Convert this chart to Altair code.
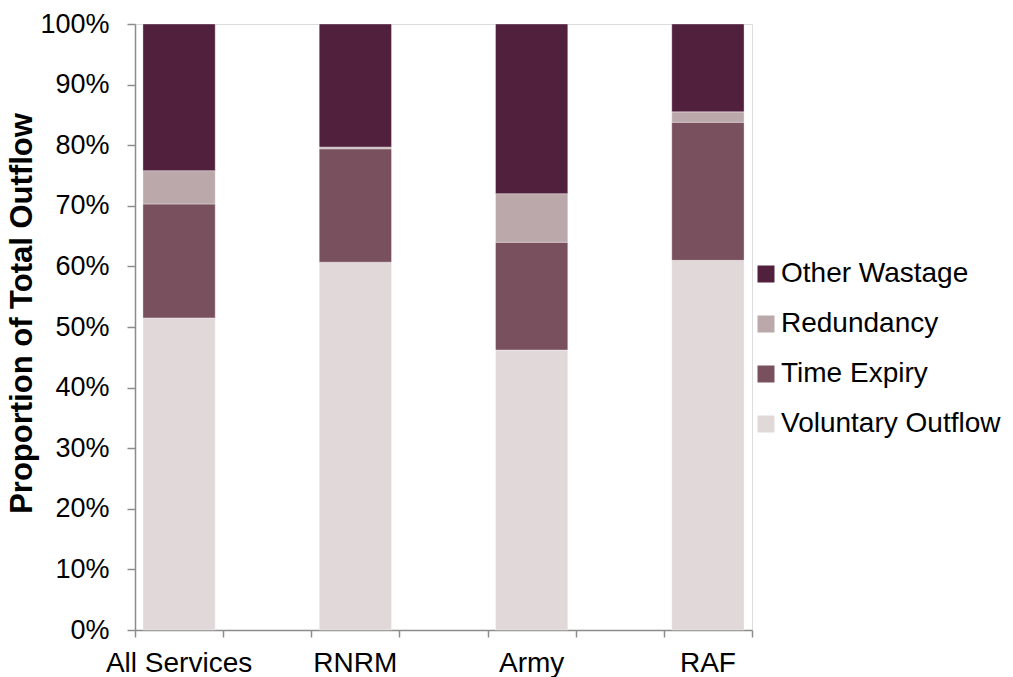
import altair as alt
import pandas as pd

services = ["All Services", "RNRM", "Army", "RAF"]
categories = ["Voluntary Outflow", "Time Expiry", "Redundancy", "Other Wastage"]
voluntary = [51.5, 60.7, 46.2, 61.0]
time_expiry = [18.8, 18.7, 17.8, 22.8]
redundancy = [5.5, 0.3, 8.0, 1.7]
other = [24.2, 20.3, 28.0, 14.5]
y_ticks = [0, 10, 20, 30, 40, 50, 60, 70, 80, 90, 100]

legend_order = ["Other Wastage", "Redundancy", "Time Expiry", "Voluntary Outflow"]
colors = ["#50203C", "#BAA8AB", "#78505E", "#E1D8DA"]

series = [voluntary, time_expiry, redundancy, other]
rows = []
for si, s in enumerate(services):
    for ci, c in enumerate(categories):
        rows.append({"service": s, "idx": si, "category": c, "order": ci, "value": series[ci][si]})
df = pd.DataFrame(rows)
lab = pd.DataFrame({"service": services, "idx": list(range(len(services)))})

FONT = "Liberation Sans"
W, H = 617, 606
half = 0.41
AXC = "#8c8c8c"

xscale = alt.Scale(domain=[0, 7], nice=False, zero=False)
yscale = alt.Scale(domain=[0, 100], nice=False)

bars = alt.Chart(df).transform_window(
    cum="sum(value)", groupby=["idx"], sort=[alt.SortField("order", order="ascending")],
    frame=[None, 0]
).transform_calculate(
    base="datum.cum - datum.value",
    pos="datum.idx * 2 + 0.5"
).transform_calculate(
    xa="datum.pos - %f" % half, xb="datum.pos + %f" % half
).mark_bar(stroke="white", strokeWidth=0.6, strokeOpacity=0.6).encode(
    x=alt.X("xa:Q", scale=xscale,
            axis=alt.Axis(values=list(range(8)), labels=False, ticks=True, tickSize=7,
                          tickColor=AXC, domainColor=AXC, tickWidth=1.5, domainWidth=1.5,
                          grid=False, title=None, orient="bottom")),
    x2="xb:Q",
    y=alt.Y("base:Q", scale=yscale,
            axis=alt.Axis(values=y_ticks, labelExpr="datum.value + '%'", tickSize=8,
                          tickColor=AXC, domainColor=AXC, tickWidth=1.5, domainWidth=1.5,
                          grid=False, labelFontSize=27, labelFont=FONT, labelColor="black",
                          labelPadding=18,
                          title="Proportion of Total Outflow", titleFont=FONT, titleFontSize=31,
                          titleFontWeight="bold", titleColor="black",
                          titleX=-97, titleY=289, titleAngle=270, titleBaseline="bottom",
                          titleAlign="center")),
    y2="cum:Q",
    color=alt.Color("category:N",
                    scale=alt.Scale(domain=legend_order, range=colors),
                    sort=legend_order,
                    legend=alt.Legend(title=None, orient="none", legendX=617, legendY=236,
                                      symbolType="square", symbolSize=289, symbolStrokeWidth=0,
                                      labelFontSize=28, labelFont=FONT, labelColor="black",
                                      rowPadding=22, labelOffset=1, labelLimit=400)),
)

labels = alt.Chart(lab).transform_calculate(
    pos="datum.idx * 2 + 0.5"
).mark_text(fontSize=28, font=FONT, color="black", baseline="alphabetic", align="center").encode(
    x=alt.X("pos:Q", scale=xscale),
    y=alt.value(H + 42),
    text="service:N",
)

chart = alt.layer(bars, labels).properties(
    width=W, height=H,
    autosize=alt.AutoSizeParams(type="none"),
    padding={"left": 135, "top": 24, "right": 261, "bottom": 47},
).configure_view(stroke=None).configure(background="white")

chart.save("out.html", embed_options={"renderer": "svg", "actions": False})
